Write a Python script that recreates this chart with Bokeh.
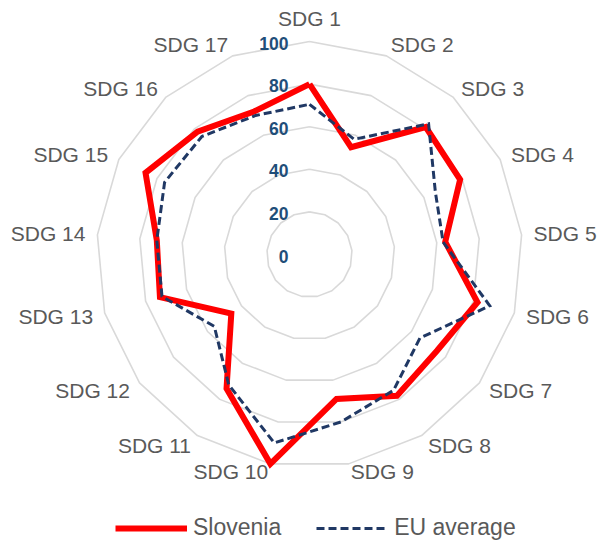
import numpy as np
from bokeh.plotting import figure
from bokeh.models import Range1d, Legend, LegendItem, ColumnDataSource
from bokeh.core.properties import value
from bokeh.embed import file_html
from bokeh.resources import INLINE

# ---- data ----
categories = ["SDG 1", "SDG 2", "SDG 3", "SDG 4", "SDG 5", "SDG 6", "SDG 7", "SDG 8", "SDG 9",
              "SDG 10", "SDG 11", "SDG 12", "SDG 13", "SDG 14", "SDG 15", "SDG 16", "SDG 17"]
slovenia = [80, 54, 81, 79, 64, 82, 75, 78, 69, 100, 74, 46, 73, 72, 86, 78, 72]
eu_average = [70.5, 58, 83, 66, 63, 88, 65, 75, 80, 90, 72, 56, 72, 72, 76, 75, 70]
ring_values = [20, 40, 60, 80, 100]
tick_values = [0, 20, 40, 60, 80, 100]
tick_labels = ["0", "20", "40", "60", "80", "100"]

# ---- geometry ----
W, H = 597, 542
CX, CY = 309, 254       # centre in canvas px
S = 2.13                # px per unit
n = len(categories)
theta = 2 * np.pi * np.arange(n) / n
sin_t, cos_t = np.sin(theta), np.cos(theta)

p = figure(width=W, height=H, output_backend="svg", toolbar_location=None,
           x_range=Range1d(-CX / S, (W - CX) / S), y_range=Range1d(-(H - CY) / S, CY / S),
           min_border=0, outline_line_color=None)
p.axis.visible = False
p.xgrid.visible = False
p.ygrid.visible = False

FONT = "Liberation Sans"

# grid polygons
for r in ring_values:
    xs = list(r * sin_t) + [r * sin_t[0]]
    ys = list(r * cos_t) + [r * cos_t[0]]
    p.line(xs, ys, line_color="#D9D9D9", line_width=1.6)

# series
def closed(vals):
    v = np.array(vals, dtype=float)
    xs = list(v * sin_t) + [v[0] * sin_t[0]]
    ys = list(v * cos_t) + [v[0] * cos_t[0]]
    return xs, ys

sx, sy = closed(slovenia)
r_slo = p.line(sx, sy, line_color="#FF0000", line_width=6, line_join="miter")
ex, ey = closed(eu_average)
r_eu = p.line(ex, ey, line_color="#203864", line_width=3, line_dash="8 4", line_join="miter")

# radial tick labels
p.text(x=[0] * len(tick_values), y=tick_values, text=tick_labels,
       x_offset=-21, y_offset=1.5, text_align="right", text_baseline="middle",
       text_font=value(FONT), text_font_size="17.5px", text_font_style="bold",
       text_color="#1F4E79")

# category labels
aligns, baselines, yos = [], [], []
for s, c in zip(sin_t, cos_t):
    if abs(s) < 0.05:
        aligns.append("center")
        baselines.append("bottom" if c > 0 else "top")
    else:
        aligns.append("left" if s > 0 else "right")
        baselines.append("middle")
    yos.append(-12 * c if c > -0.95 else -8 * c)
src = ColumnDataSource(dict(x=100 * sin_t, y=100 * cos_t, text=categories,
                            xo=12 * sin_t, yo=yos, al=aligns, bl=baselines))
p.text(x="x", y="y", text="text", x_offset="xo", y_offset="yo", text_align="al",
       text_baseline="bl", source=src, text_font=value(FONT), text_font_size="21px",
       text_color="#595959")

legend = Legend(items=[LegendItem(label="Slovenia", renderers=[r_slo]),
                       LegendItem(label="EU average", renderers=[r_eu])],
                location=(115, 1), orientation="horizontal", glyph_width=72, glyph_height=24,
                label_height=24, label_standoff=6, spacing=35, padding=0, margin=0,
                border_line_color=None, background_fill_alpha=0,
                label_text_font=FONT, label_text_font_size="23px", label_text_color="#595959")
p.add_layout(legend)

open("out.html", "w").write(file_html(p, INLINE))
